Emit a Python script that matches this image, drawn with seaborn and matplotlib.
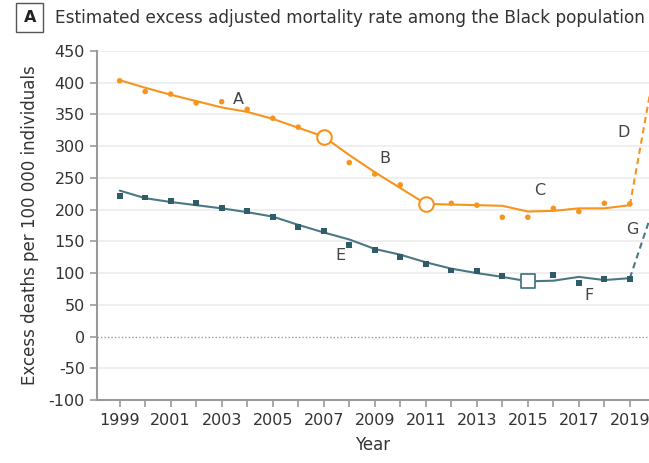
import numpy as np
import pandas as pd
import matplotlib
matplotlib.use("Agg")
import matplotlib.pyplot as plt
import seaborn as sns

# Data
years = list(range(1999, 2020))
orange_obs = [403, 386, 382, 368, 370, 358, 344, 330, 315, 274, 256, 239, 210, 210, 207, 188, 188, 202, 197, 210, 209]
orange_fit = [404, 392, 381, 371, 361, 354, 343, 329, 315, 286, 259, 234, 209, 208, 207, 206, 197, 198, 202, 202, 207]
teal_obs = [222, 219, 213, 210, 203, 198, 188, 172, 166, 144, 137, 126, 114, 104, 103, 96, 86, 97, 84, 90, 91]
teal_fit = [230, 218, 212, 207, 202, 196, 189, 176, 164, 153, 138, 129, 117, 107, 100, 94, 87, 88, 94, 89, 92]

# projected 2020 values (dashed)
proj_years = [2019, 2020]
orange_proj = [207, 430]
teal_proj = [92, 212]

# joinpoints (open markers)
orange_joins = [2007, 2011]
teal_joins = [2015]

# letter labels
labels = ["A", "B", "C", "D", "E", "F", "G"]
label_x = [2003.65, 2009.4, 2015.45, 2018.75, 2007.65, 2017.4, 2019.1]
label_y = [374, 281, 230, 322, 127, 64, 168]

orange = "#F7941D"
teal = "#2F5C68"
teal_line = "#4A7883"

sns.set_style("white")
plt.rcParams["font.family"] = ["DejaVu Sans"]
plt.rcParams["axes.unicode_minus"] = False

df = pd.DataFrame({"year": years, "orange_obs": orange_obs, "orange_fit": orange_fit,
                   "teal_obs": teal_obs, "teal_fit": teal_fit})

fig = plt.figure(figsize=(6.49, 4.63), dpi=100)
ax = fig.add_axes([0.149, 0.136, 0.851, 0.754])

# grid lines
for v in range(-50, 451, 50):
    if v == 0:
        ax.axhline(v, color="#9a9a9a", lw=1.0, ls=(0, (1, 1.5)), zorder=0)
    else:
        ax.axhline(v, color="#ececec", lw=1.2, zorder=0)

# fitted lines
sns.lineplot(data=df, x="year", y="orange_fit", color=orange, lw=1.5, ax=ax, zorder=2)
sns.lineplot(data=df, x="year", y="teal_fit", color=teal_line, lw=1.5, ax=ax, zorder=2)
sns.lineplot(x=proj_years, y=orange_proj, color=orange, lw=1.5, ls=(0, (3, 2)), ax=ax, zorder=2)
sns.lineplot(x=proj_years, y=teal_proj, color=teal_line, lw=1.5, ls=(0, (3, 2)), ax=ax, zorder=2)

# observed points
sns.scatterplot(data=df, x="year", y="orange_obs", color=orange, s=16, marker="o",
                edgecolor="none", ax=ax, zorder=3)
sns.scatterplot(data=df, x="year", y="teal_obs", color=teal, s=18, marker="s",
                edgecolor="none", ax=ax, zorder=3)

# joinpoint markers
oj = df[df["year"].isin(orange_joins)]
tj = df[df["year"].isin(teal_joins)]
ax.scatter(oj["year"], oj["orange_fit"], s=110, facecolor="white", edgecolor=orange, lw=1.5, zorder=4)
ax.scatter(tj["year"], tj["teal_fit"], s=100, marker="s", facecolor="white", edgecolor=teal_line, lw=1.3, zorder=4)

for t, x, y in zip(labels, label_x, label_y):
    ax.text(x, y, t, ha="center", va="center", fontsize=11.5, color="#444444")

ax.set_xlim(1998.1, 2019.75)
ax.set_ylim(-100, 450)
ax.set_yticks(range(-100, 451, 50))
ax.set_xticks(years)
ax.set_xticklabels([str(y) if y % 2 == 1 else "" for y in years])
ax.tick_params(axis="both", labelsize=11.5, colors="#999999", labelcolor="#333333",
               length=5, width=1.2, direction="out", bottom=True, left=True)
ax.tick_params(axis="x", pad=4)

for s in ["top", "right"]:
    ax.spines[s].set_visible(False)
for s in ["left", "bottom"]:
    ax.spines[s].set_color("#999999")
    ax.spines[s].set_linewidth(1.5)

ax.set_xlabel("Year", fontsize=12, color="#333333", labelpad=6)
ax.set_ylabel("Excess deaths per 100 000 individuals", fontsize=12, color="#333333", labelpad=7)

# panel title
fig.text(0.046, 0.962, "A", fontsize=11.5, fontweight="bold", color="#222222", ha="center", va="center",
         bbox=dict(boxstyle="square,pad=0.45", facecolor="white", edgecolor="#555555", lw=1))
fig.text(0.085, 0.962, "Estimated excess adjusted mortality rate among the Black population",
         fontsize=12.2, color="#333333", ha="left", va="center")

fig.savefig("out.png", dpi=100)
